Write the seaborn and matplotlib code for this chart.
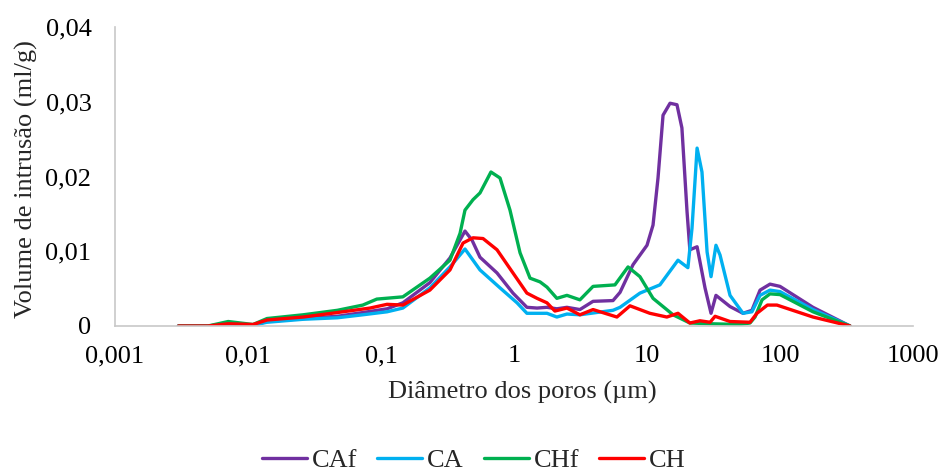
import matplotlib
matplotlib.use("Agg")
import matplotlib.pyplot as plt
import seaborn as sns
import pandas as pd
from matplotlib.ticker import FixedLocator, FixedFormatter

# ---- data ----
caf_x = [0.003, 0.005, 0.0071, 0.0109, 0.0139, 0.026, 0.047, 0.073, 0.111, 0.146, 0.233, 0.33, 0.428, 0.483,
         0.555, 0.745, 0.982, 1.25, 1.49, 1.77, 2.1, 2.5, 3.13, 3.93, 5.55, 6.27, 7.85, 10.0, 11.1, 12.1, 13.2,
         14.9, 16.8, 18.3, 20.0, 21.0, 23.8, 27.3, 30.3, 33.0, 42.1, 52.7, 61.5, 70.8, 84.1, 100, 177, 336]
caf_y = [0, 0, 0.0003, 0.0001, 0.0006, 0.001, 0.0013, 0.0018, 0.0023, 0.0031, 0.0058, 0.0091, 0.0127, 0.0115,
         0.0092, 0.0071, 0.0044, 0.0025, 0.0024, 0.0025, 0.0023, 0.0025, 0.0022, 0.0033, 0.0034, 0.0045, 0.0082,
         0.0108, 0.0135, 0.0198, 0.0282, 0.0298, 0.0296, 0.0265, 0.0153, 0.0102, 0.0106, 0.0051, 0.0017, 0.0041,
         0.0026, 0.0017, 0.0021, 0.0048, 0.0056, 0.0053, 0.0025, 0]

ca_x = [0.003, 0.005, 0.0071, 0.0109, 0.0139, 0.026, 0.047, 0.073, 0.111, 0.146, 0.233, 0.33, 0.428, 0.555,
        0.785, 1.054, 1.25, 1.49, 1.77, 2.1, 2.5, 3.13, 5.55, 6.27, 8.85, 12.5, 17.1, 20.3, 21.8, 23.8, 25.9,
        28.3, 30.3, 33.0, 35.4, 42.1, 52.7, 61.5, 70.8, 84.1, 100, 177, 336]
ca_y = [0, 0, 0.0002, 0.0001, 0.0005, 0.0009, 0.0011, 0.0015, 0.0019, 0.0024, 0.0051, 0.0079, 0.0103, 0.0075,
        0.0051, 0.0031, 0.0017, 0.0017, 0.0017, 0.0012, 0.0016, 0.0015, 0.0021, 0.0025, 0.0044, 0.0055, 0.0088,
        0.0078, 0.0131, 0.0238, 0.0206, 0.0099, 0.0066, 0.0108, 0.0095, 0.0041, 0.0017, 0.0019, 0.0041, 0.0048,
        0.0046, 0.0022, 0]

chf_x = [0.003, 0.005, 0.0071, 0.0109, 0.0139, 0.026, 0.047, 0.073, 0.093, 0.146, 0.233, 0.33, 0.393, 0.428,
         0.492, 0.555, 0.671, 0.785, 0.933, 1.11, 1.32, 1.57, 1.77, 2.1, 2.5, 3.13, 3.93, 5.74, 7.2, 8.85, 11.1,
         15.7, 21.0, 30, 50, 59.5, 64.9, 73.3, 84.1, 100, 177, 336]
chf_y = [0, 0, 0.0006, 0.0002, 0.001, 0.0015, 0.0021, 0.0028, 0.0036, 0.0039, 0.0064, 0.0088, 0.0124, 0.0155,
         0.0169, 0.0178, 0.0206, 0.0198, 0.0155, 0.0098, 0.0064, 0.0059, 0.0052, 0.0037, 0.0041, 0.0035, 0.0053,
         0.0055, 0.0079, 0.0066, 0.0037, 0.0015, 0.0004, 0.0003, 0.0002, 0.0004, 0.0012, 0.0035, 0.0043, 0.0042,
         0.0019, 0]

ch_x = [0.003, 0.005, 0.0071, 0.0109, 0.0139, 0.026, 0.047, 0.0826, 0.111, 0.146, 0.233, 0.33, 0.414, 0.492,
        0.585, 0.745, 0.982, 1.25, 1.49, 1.77, 2.03, 2.5, 3.13, 3.93, 5.94, 7.45, 10.5, 14.1, 17.1, 21.0, 25.0,
        29.8, 32.5, 42.1, 59.5, 67.1, 80.4, 94.8, 177, 336]
ch_y = [0, 0, 0.0003, 0.0002, 0.0008, 0.0012, 0.0018, 0.0024, 0.0029, 0.0028, 0.0048, 0.0075, 0.0111, 0.0118,
        0.0117, 0.0102, 0.0071, 0.0044, 0.0037, 0.0031, 0.002, 0.0024, 0.0015, 0.0022, 0.0012, 0.0027, 0.0017,
        0.0012, 0.0017, 0.0004, 0.0007, 0.0005, 0.0013, 0.0006, 0.0005, 0.0017, 0.0028, 0.0028, 0.0012, 0]

series_names = ["CAf", "CA", "CHf", "CH"]
series_colors = ["#7030A0", "#00B0F0", "#00B050", "#FF0000"]

x_ticks = [0.001, 0.01, 0.1, 1, 10, 100, 1000]
x_labels = ["0,001", "0,01", "0,1", "1", "10", "100", "1000"]
y_ticks = [0, 0.01, 0.02, 0.03, 0.04]
y_labels = ["0", "0,01", "0,02", "0,03", "0,04"]

# ---- build long table ----
frames = []
for name, xs, ys in zip(series_names, [caf_x, ca_x, chf_x, ch_x], [caf_y, ca_y, chf_y, ch_y]):
    frames.append(pd.DataFrame({"d": xs, "v": ys, "s": name}))
df = pd.concat(frames, ignore_index=True)

sns.set_theme(style="white")
plt.rcParams["font.family"] = ["Liberation Serif", "DejaVu Serif"]

FS = 19
fig = plt.figure(figsize=(9.42, 4.70), dpi=100)
ax = fig.add_axes([115 / 942, 1 - 326 / 470, 798 / 942, 299 / 470])

sns.lineplot(data=df, x="d", y="v", hue="s", hue_order=series_names,
             palette=dict(zip(series_names, series_colors)), sort=False, estimator=None,
             linewidth=2.4, ax=ax, legend=True)
for ln in ax.get_lines():
    ln.set_solid_joinstyle("round")
    ln.set_solid_capstyle("round")

ax.set_xscale("log")
ax.set_xlim(0.001, 1000)
ax.set_ylim(0, 0.04)
ax.xaxis.set_major_locator(FixedLocator(x_ticks))
ax.xaxis.set_major_formatter(FixedFormatter(x_labels))
ax.xaxis.set_minor_locator(FixedLocator([]))
ax.yaxis.set_major_locator(FixedLocator(y_ticks))
ax.yaxis.set_major_formatter(FixedFormatter(y_labels))
ax.tick_params(axis="both", length=0, labelsize=FS, colors="black")
ax.tick_params(axis="x", pad=14)
ax.tick_params(axis="y", pad=17)

for sp in ["top", "right"]:
    ax.spines[sp].set_visible(False)
for sp in ["left", "bottom"]:
    ax.spines[sp].set_color("#C8C8C8")
    ax.spines[sp].set_linewidth(1.2)

ax.set_xlabel("Diâmetro dos poros (µm)", fontsize=FS)
ax.set_ylabel("Volume de intrusão (ml/g)", fontsize=FS)
ax.xaxis.set_label_coords(0.511, -0.185)
ax.yaxis.set_label_coords(-0.097, 0.49)

handles, labels = ax.get_legend_handles_labels()
ax.get_legend().remove()
fig.legend(handles, labels, loc="center", bbox_to_anchor=(474 / 942, 1 - 460 / 470), ncol=4,
           frameon=False, fontsize=FS, handlelength=1.7, handletextpad=0.2, columnspacing=0.75,
           borderpad=0, borderaxespad=0)

fig.savefig("out.png", dpi=100)
